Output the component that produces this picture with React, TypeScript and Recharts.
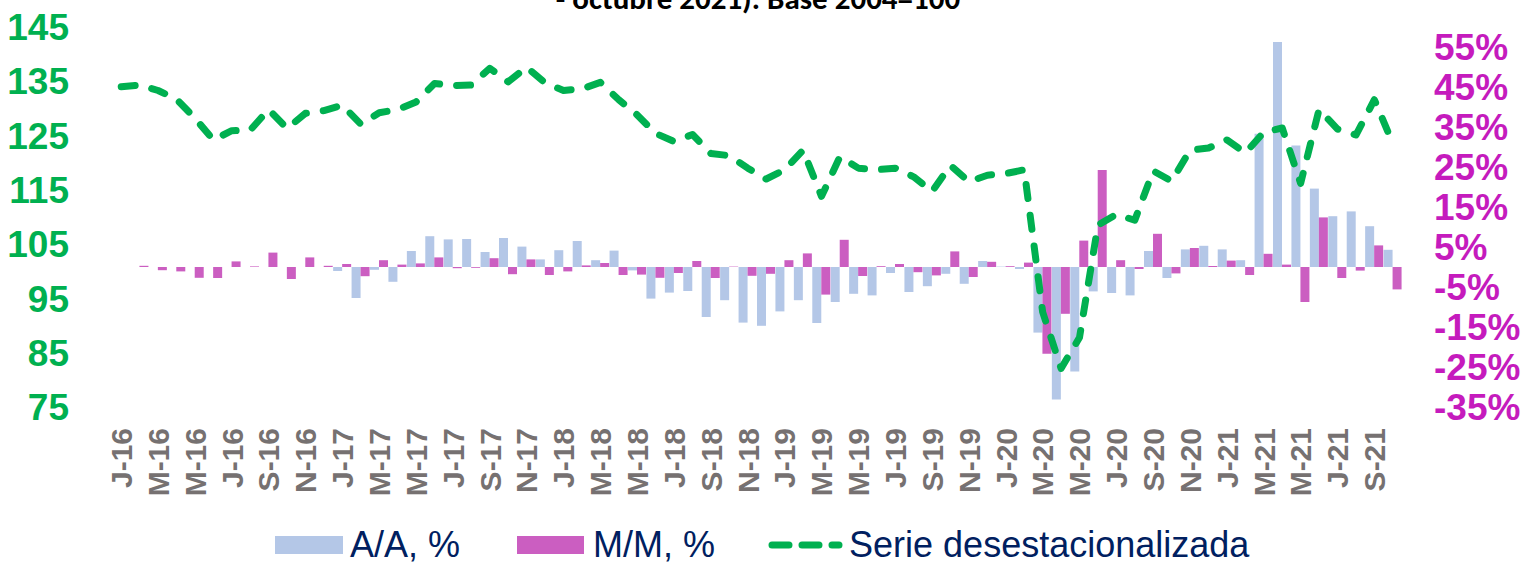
import React from 'react';
import { ComposedChart, Bar, Line, XAxis, YAxis, Legend } from 'recharts';

const categories = [
  '2016-01', '2016-02', '2016-03', '2016-04', '2016-05', '2016-06', '2016-07', '2016-08', '2016-09', '2016-10', '2016-11', '2016-12',
  '2017-01', '2017-02', '2017-03', '2017-04', '2017-05', '2017-06', '2017-07', '2017-08', '2017-09', '2017-10', '2017-11', '2017-12',
  '2018-01', '2018-02', '2018-03', '2018-04', '2018-05', '2018-06', '2018-07', '2018-08', '2018-09', '2018-10', '2018-11', '2018-12',
  '2019-01', '2019-02', '2019-03', '2019-04', '2019-05', '2019-06', '2019-07', '2019-08', '2019-09', '2019-10', '2019-11', '2019-12',
  '2020-01', '2020-02', '2020-03', '2020-04', '2020-05', '2020-06', '2020-07', '2020-08', '2020-09', '2020-10', '2020-11', '2020-12',
  '2021-01', '2021-02', '2021-03', '2021-04', '2021-05', '2021-06', '2021-07', '2021-08', '2021-09', '2021-10',
];

const tickLabels = [
  'J-16', 'F-16', 'M-16', 'A-16', 'M-16', 'J-16', 'J-16', 'A-16', 'S-16', 'O-16', 'N-16', 'D-16',
  'J-17', 'F-17', 'M-17', 'A-17', 'M-17', 'J-17', 'J-17', 'A-17', 'S-17', 'O-17', 'N-17', 'D-17',
  'J-18', 'F-18', 'M-18', 'A-18', 'M-18', 'J-18', 'J-18', 'A-18', 'S-18', 'O-18', 'N-18', 'D-18',
  'J-19', 'F-19', 'M-19', 'A-19', 'M-19', 'J-19', 'J-19', 'A-19', 'S-19', 'O-19', 'N-19', 'D-19',
  'J-20', 'F-20', 'M-20', 'A-20', 'M-20', 'J-20', 'J-20', 'A-20', 'S-20', 'O-20', 'N-20', 'D-20',
  'J-21', 'F-21', 'M-21', 'A-21', 'M-21', 'J-21', 'J-21', 'A-21', 'S-21', 'O-21',
];

// A/A, % (year over year)
const aaValues: (number | null)[] = [
  null, null, null, null, null, null, null, null, null, null, null, null,
  -1.0, -7.75, -0.7, -3.7, 4.0, 7.7, 6.9, 7.0, 3.75, 7.25, 5.1, 1.9,
  4.2, 6.5, 1.7, 4.1, -0.85, -7.9, -6.4, -6.0, -12.5, -8.3, -13.9, -14.7,
  -11.1, -8.3, -14.0, -8.75, -6.7, -7.1, -1.5, -6.25, -4.8, -1.7, -4.2, 1.5,
  0.1, -0.5, -16.4, -33.1, -26.1, -6.1, -6.5, -7.1, 4.0, -2.75, 4.4, 5.3,
  4.4, 1.7, 33.3, 56.25, 30.4, 19.6, 12.7, 13.9, 10.2, 4.3,
];

// M/M, % (month over month)
const mmValues: (number | null)[] = [
  null, 0.3, -0.8, -1.1, -2.7, -2.75, 1.4, 0.15, 3.6, -3.0, 2.4, 0.3,
  0.75, -2.3, 1.7, 0.6, 0.9, 2.4, -0.3, -0.2, 2.2, -1.8, 1.9, -2.0,
  -1.1, 0.4, 1.0, -2.0, -1.9, -2.7, -1.5, 1.5, -2.75, 0.1, -2.2, -1.7,
  1.7, 3.4, -6.9, 6.8, -2.25, 0.2, 0.75, -1.3, -2.1, 3.9, -2.5, 1.3,
  0.2, 1.1, -21.7, -11.7, 6.6, 24.25, 1.7, -0.5, 8.3, -1.6, 4.75, 0.25,
  1.6, -2.0, 3.3, 0.6, -8.75, 12.4, -2.75, -0.9, 5.4, -5.6,
];

// Serie desestacionalizada (index, base 2004=100)
const serieValues: number[] = [
  134.0, 134.3, 133.3, 131.7, 128.2, 124.2, 125.9, 126.0, 129.8, 126.3, 129.1, 129.6,
  130.6, 127.1, 129.2, 129.8, 131.2, 134.6, 134.2, 134.3, 137.4, 134.9, 137.6, 134.7,
  133.3, 133.6, 134.8, 131.6, 128.8, 125.4, 123.9, 125.2, 121.7, 121.3, 119.0, 117.0,
  118.7, 122.3, 113.8, 121.1, 119.0, 118.7, 119.0, 117.4, 114.7, 119.5, 116.5, 117.7,
  118.0, 118.7, 92.5, 82.1, 87.8, 108.5, 110.5, 109.4, 118.5, 116.6, 122.3, 122.7,
  124.2, 121.8, 125.6, 126.4, 116.2, 129.8, 126.2, 125.1, 131.6, 123.6,
];

const leftTicks = [75, 85, 95, 105, 115, 125, 135, 145];
const rightTicks = [-35, -25, -15, -5, 5, 15, 25, 35, 45, 55];
const titleText = '- octubre 2021). Base 2004=100';

const data = categories.map((c, i) => ({
  cat: c,
  aa: aaValues[i],
  mm: mmValues[i],
  serie: serieValues[i],
}));

const ARIAL = '"Liberation Sans", Arial, Helvetica, sans-serif';
const C_AA = '#B4C7E7';
const C_MM = '#CB5EC1';
const C_LINE = '#00B050';
const C_RIGHT = '#C51BBD';
const C_NAVY = '#002060';

const XTick = (props: any) => {
  const { x, y, payload } = props;
  const idx = categories.indexOf(payload.value);
  return (
    <text
      transform={`translate(${x},${y}) rotate(-90)`}
      textAnchor="end"
      dy="0.36em"
      fontSize={30}
      fontWeight={700}
      fill="#767171"
      fontFamily={ARIAL}
    >
      {idx >= 0 ? tickLabels[idx] : ''}
    </text>
  );
};

const LegendContent = () => (
  <div
    style={{
      display: 'flex',
      alignItems: 'center',
      height: 37,
      paddingLeft: 275,
      fontFamily: ARIAL,
      fontSize: 36,
      lineHeight: '36px',
      color: C_NAVY,
      whiteSpace: 'nowrap',
      boxSizing: 'border-box',
    }}
  >
    <span style={{ display: 'inline-block', width: 68, height: 18, background: C_AA }} />
    <span style={{ marginLeft: 7 }}>A/A, %</span>
    <span style={{ display: 'inline-block', width: 67, height: 18, background: C_MM, marginLeft: 57 }} />
    <span style={{ marginLeft: 9 }}>M/M, %</span>
    <svg width={76} height={18} style={{ marginLeft: 53, display: 'block' }}>
      <line x1={4} y1={9} x2={71} y2={9} stroke={C_LINE} strokeWidth={7} strokeDasharray="17 13" strokeLinecap="round" />
    </svg>
    <span style={{ marginLeft: 5 }}>Serie desestacionalizada</span>
  </div>
);

export default function App() {
  return (
    <div style={{ position: 'absolute', left: 0, top: 0, width: 1526, height: 563, background: '#fff', overflow: 'hidden' }}>
      <ComposedChart
        width={1526}
        height={563}
        data={data}
        margin={{ top: 27, right: 0, bottom: 0, left: 0 }}
        barCategoryGap={0}
        barGap={0}
      >
        <XAxis
          dataKey="cat"
          height={119}
          interval={1}
          tick={<XTick />}
          tickLine={false}
          axisLine={false}
          tickMargin={15}
        />
        <YAxis
          yAxisId="left"
          orientation="left"
          width={112}
          domain={[75, 145]}
          ticks={leftTicks}
          interval={0}
          axisLine={false}
          tickLine={false}
          tickMargin={37}
          tick={{ fontSize: 37, fontWeight: 700, fill: C_LINE, fontFamily: ARIAL }}
        />
        <YAxis
          yAxisId="right"
          orientation="right"
          width={124}
          domain={[-35, 60]}
          ticks={rightTicks}
          interval={0}
          axisLine={false}
          tickLine={false}
          tickMargin={26}
          tickFormatter={(v: number) => `${v}%`}
          tick={{ fontSize: 37, fontWeight: 700, fill: C_RIGHT, fontFamily: ARIAL }}
        />
        <Bar yAxisId="right" dataKey="aa" name="A/A, %" fill={C_AA} isAnimationActive={false} />
        <Bar yAxisId="right" dataKey="mm" name="M/M, %" fill={C_MM} isAnimationActive={false} />
        <Line
          yAxisId="left"
          dataKey="serie"
          name="Serie desestacionalizada"
          type="linear"
          stroke={C_LINE}
          strokeWidth={7}
          strokeDasharray="14 17"
          strokeLinecap="round"
          strokeLinejoin="round"
          dot={false}
          activeDot={false}
          isAnimationActive={false}
        />
        <Legend verticalAlign="bottom" content={LegendContent} />
      </ComposedChart>
      <svg width={1526} height={22} style={{ position: 'absolute', left: 0, top: 0, pointerEvents: 'none' }}>
        <text x={758} y={9} textAnchor="middle" fontFamily="Carlito, Lato, sans-serif" fontWeight={700} fontSize={31} fill="#000">
          {titleText}
        </text>
      </svg>
    </div>
  );
}
